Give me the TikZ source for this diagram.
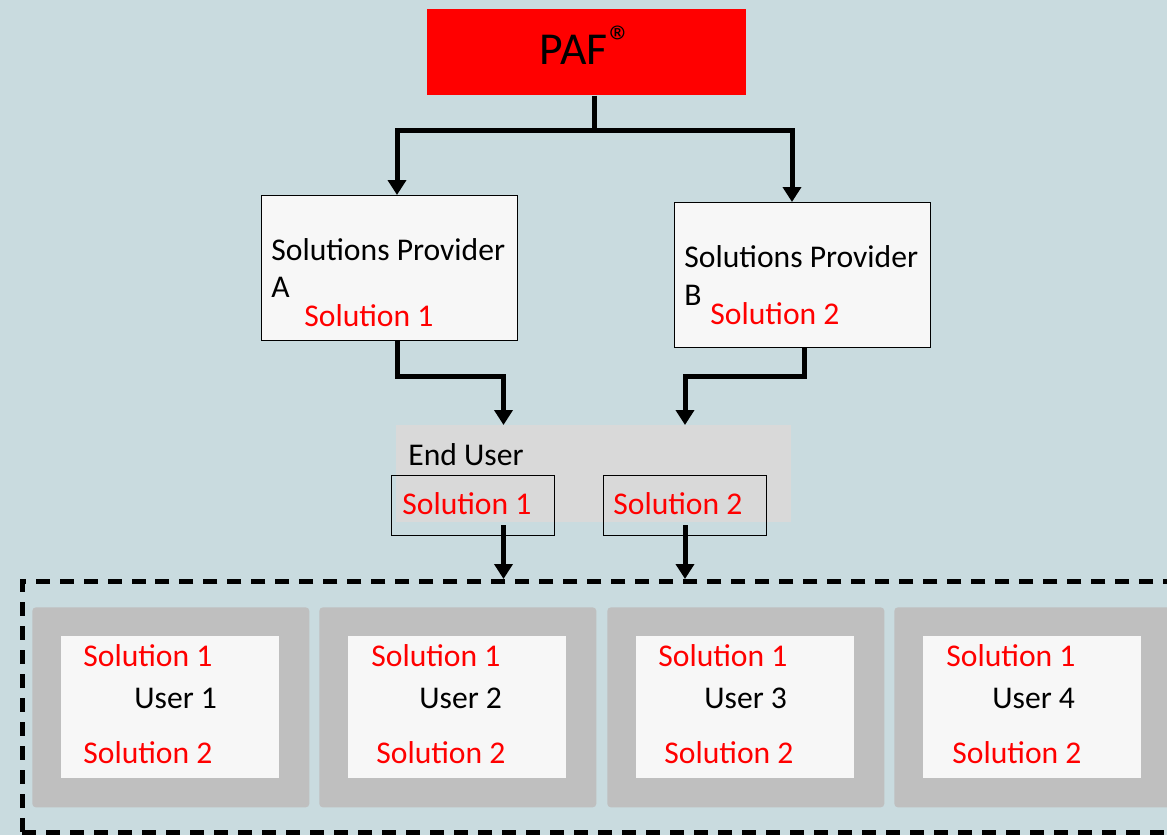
\documentclass[tikz,border=0pt]{standalone}
\usepackage{fontspec}
\setmainfont{Carlito}
\usetikzlibrary{arrows.meta,calc}
\definecolor{bgblue}{HTML}{C9DBDF}
\definecolor{boxwhite}{HTML}{F7F7F7}
\definecolor{panelgray}{HTML}{BFBFBF}
\definecolor{usergray}{HTML}{D9D9D9}
\definecolor{pafred}{HTML}{FF0000}

\begin{document}
\begin{tikzpicture}[x=0.02cm, y=-0.02cm]
            \tikzstyle{txt} = [inner sep=0, anchor=base west, font=\fontsize{18}{20}\selectfont]
            \tikzstyle{sol} = [txt, text=pafred]
            \tikzstyle{provider} = [draw=black, line width=0.6pt, fill=boxwhite, anchor=north west, inner sep=0, minimum width=5.12cm, minimum height=2.9cm]
            \tikzstyle{pick} = [draw=black, line width=0.7pt, anchor=north west, inner sep=0, minimum width=3.26cm, minimum height=1.2cm]
            \tikzstyle{panel} = [fill=panelgray, rounded corners=2pt, anchor=north west, inner sep=0, minimum width=5.54cm, minimum height=4cm]
            \tikzstyle{card} = [fill=boxwhite, anchor=north west, inner sep=0, minimum width=4.36cm, minimum height=2.84cm]
            \tikzstyle{flow} = [line width=0.1cm, -{Triangle[width=0.36cm,length=0.3cm]}]
            \fill[bgblue] (0, 0) rectangle (1167, 835);
            \useasboundingbox (0, 0) rectangle (1167, 835);

            % top box
            \node[fill=pafred, anchor=north west, inner sep=0, minimum width=6.38cm, minimum height=1.72cm] (paf) at (427, 9) {};
            \node[anchor=base, inner sep=0, font=\fontsize{26}{30}\selectfont] (pafText) at (586, 64) {PAF\kern1pt\raisebox{3.5pt}{®}};

            % providers
            \node[provider] (spA) at (261, 195) {};
            \node[txt] (spAname) at (271, 260) {Solutions Provider};
            \node[txt] (spAletter) at (271, 297) {A};
            \node[sol] (spAsol) at (304, 326) {Solution 1};

            \node[provider] (spB) at (674, 202) {};
            \node[txt] (spBname) at (684, 267) {Solutions Provider};
            \node[txt] (spBletter) at (684, 305) {B};
            \node[sol] (spBsol) at (710, 324) {Solution 2};

            % end user
            \node[fill=usergray, anchor=north west, inner sep=0, minimum width=7.9cm, minimum height=1.94cm] (eu) at (396, 425) {};
            \node[txt] (euLabel) at (408, 465) {End User};
            \node[pick] (eu1) at (391, 475) {};
            \node[sol] (eu1text) at (402, 514) {Solution 1};
            \node[pick] (eu2) at (603, 475) {};
            \node[sol] (eu2text) at (613, 514) {Solution 2};

            % users
            \node[draw, line width=0.1cm, dash pattern=on 0.28cm off 0.2cm, anchor=north west, inner sep=0, minimum width=23.2cm, minimum height=5.02cm] (users) at (20, 579) {};
            \foreach \n/\x/\a/\u/\b in {1/32/51/102/51, 2/319/52/100/57, 3/607/51/97/57, 4/894/52/98/58} {
                \node[panel] (panel\n) at (\x, 607) {};
                \node[card] (card\n) at (\x+29, 636) {};
                \node[sol] (solA\n) at (\x+\a, 666) {Solution 1};
                \node[txt] (user\n) at (\x+\u, 708) {User \n};
                \node[sol] (solB\n) at (\x+\b, 763) {Solution 2};
            }

            % connectors
            \coordinate (fork) at (594, 130);
            \coordinate (colA) at (397, 0);
            \coordinate (colB) at (792, 0);
            \coordinate (outB) at (804, 0);
            \coordinate (midrow) at (0, 376);
            \coordinate (euA) at (503.5, 0);
            \coordinate (euB) at (685, 0);
            \draw[flow] (paf.south -| fork) -- (fork) -| (spA.north -| colA);
            \draw[flow] (fork) -| (spB.north -| colB);
            \draw[flow] (spA.south -| colA) |- (midrow -| euA) -- (eu.north -| euA);
            \draw[flow] (spB.south -| outB) |- (midrow -| euB) -- (eu.north -| euB);
            \draw[flow] ($(eu1.south -| euA)+(0, -11)$) -- (users.north -| euA);
            \draw[flow] ($(eu2.south -| euB)+(0, -11)$) -- (users.north -| euB);
        \end{tikzpicture}
\end{document}
